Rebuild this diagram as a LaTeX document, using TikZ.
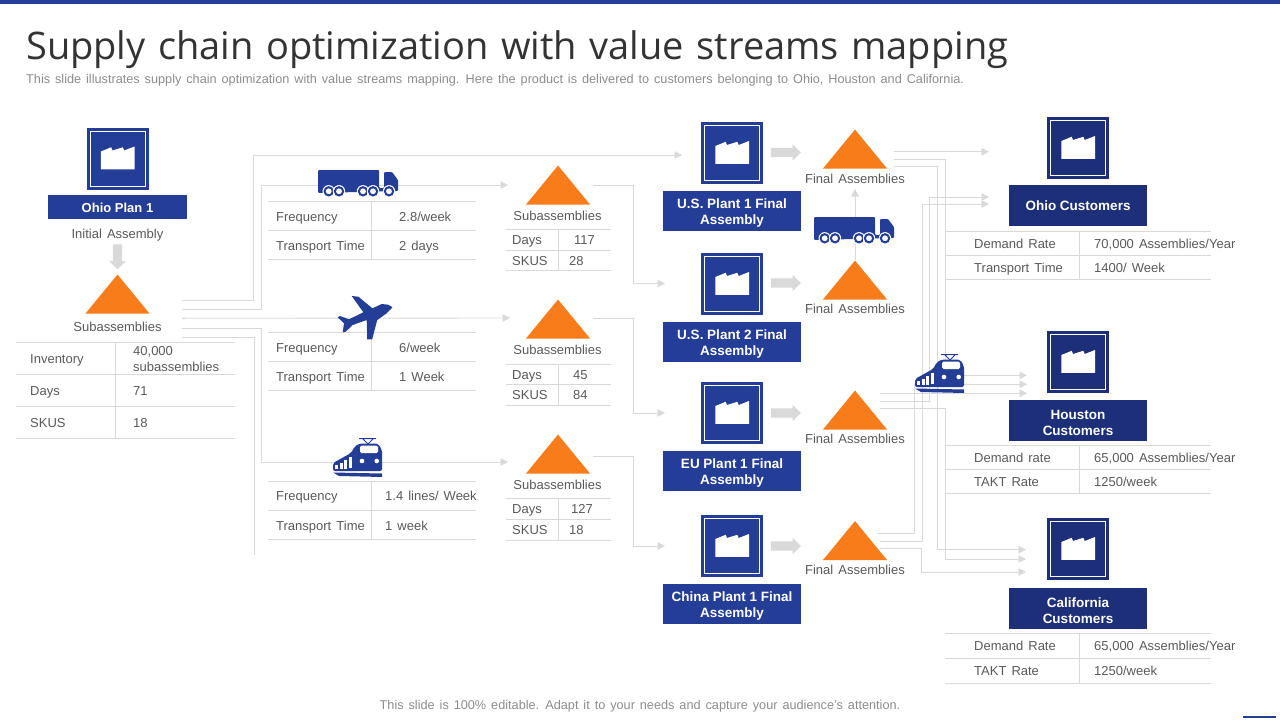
\documentclass[tikz,border=0pt]{standalone}
\usepackage{fontspec}
\setmainfont[WordSpace=1.4,BoldFeatures={WordSpace=1.0}]{Liberation Sans}
\newfontfamily\titlefont[WordSpace=1.27]{Open Sans}
\usetikzlibrary{positioning,arrows.meta,shapes.geometric,shapes.arrows}
\definecolor{plantblue}{RGB}{36,62,152}
\definecolor{custblue}{RGB}{28,47,120}
\definecolor{pileorange}{RGB}{249,124,26}
\definecolor{linkgray}{RGB}{217,217,217}
\definecolor{textgray}{RGB}{89,89,89}
\definecolor{notegray}{RGB}{140,140,140}
\newcommand{\lift}{\rule{0pt}{13pt}}
\tikzset{
  plantsq/.style  = {rectangle, minimum size=62pt, inner sep=0pt, fill=plantblue},
  namebox/.style  = {rectangle, minimum width=138pt, align=center, inner sep=0pt, text=white, font=\fontsize{13.5}{16}\bfseries, fill=plantblue},
  pile/.style     = {isosceles triangle, isosceles triangle stretches, shape border rotate=90, minimum width=64pt, minimum height=39pt, inner sep=0pt, fill=pileorange, anchor=apex},
  tag/.style      = {anchor=base, inner sep=0pt, text=textgray, font=\fontsize{13}{16}\selectfont},
  cell/.style     = {anchor=base west, inner sep=0pt, align=left, text=textgray, font=\fontsize{13}{16}\selectfont},
  note/.style     = {inner sep=0pt, text=notegray, font=\fontsize{12.7}{14}\selectfont},
  rule/.style     = {draw=linkgray, line width=0.9pt},
  link/.style     = {draw=linkgray, line width=0.9pt},
  flow/.style     = {link, -{Triangle[length=7.5pt,width=7.5pt]}},
  blockarrow/.style = {single arrow, single arrow head extend=3.5pt, minimum height=30pt, inner sep=4.5pt, fill=linkgray},
  factory/.pic = {
    \draw[white, line width=1pt] (-27.5,-27.5) rectangle (27.5,27.5);
    \fill[white] (-16.7,-7) -- (-6.3,-11.2) -- (-5,-8) -- (5.3,-11.2) -- (6.7,-8) -- (17,-12) -- (17,10.8) -- (-16.7,10.8) -- cycle;
  },
  truckicon/.pic = {
    \fill[plantblue, rounded corners=1pt] (0,0) -- (61,0) -- (61,18) -- (66,18) -- (66,2) -- (74,2) -- (80,10) -- (80,21) -- (0,23) -- cycle;
    \foreach \wx in {10.7,21,45,55,71} {
      \fill[white] (\wx,21.3) circle (6.2);
      \fill[plantblue] (\wx,21.3) circle (5.2);
      \fill[white] (\wx,21.3) circle (2.9);
    }
  },
  planeicon/.pic = {
    \fill[plantblue] (54.7,11.3) -- (50.7,8.7) -- (44,8) -- (34.7,12.3) -- (20.7,.7) -- (14,0) -- (25.7,16.3) -- (11.3,23.3) -- (2.3,20) -- (0,21.3) -- (6.3,27.3) -- (5,36.3) -- (8,35.7) -- (15,29) -- (29,24) -- (29.5,43.3) -- (34.5,43.3) -- (39.5,24) -- (49,17.3) -- cycle;
  },
  trainicon/.pic = {
    \draw[plantblue, line width=1pt] (26,.7) -- (43,.7) (30,1) -- (35,6) -- (40,1);
    \fill[plantblue, rounded corners=2pt] (0,33) -- (0,25) -- (18,15) -- (22,8) -- (27,5.5) -- (45,5.5) -- (49,12) -- (49,33) -- cycle;
    \fill[white, rounded corners=1.5pt] (27,7.7) rectangle (45,15);
    \foreach \sx/\sy/\sh in {2/26.5/4.5,6.5/24.5/6.5,11/22/8.5,15.5/19/11} \fill[white] (\sx,\sy) rectangle ++(3,\sh);
    \fill[white] (29,23) circle (2.3);
    \fill[white] (43.7,23) circle (2.3);
    \fill[plantblue] (0,34.5) -- (49,35.5) -- (49,39) -- (6,38) -- cycle;
  },
}
\begin{document}
\begin{tikzpicture}[x=1pt,y=-1pt]
  \useasboundingbox (0,0) rectangle (1280,720);
  % header and footer
  \fill[plantblue] (0,0) rectangle (1280,4);
  \fill[plantblue] (1243,716) rectangle (1276,718);
  \node[anchor=base west, inner sep=0pt, text=black!80, font=\titlefont\fontsize{38}{42}\selectfont] (title) at (26,59) {Supply chain optimization with value streams mapping};
  \node[note, anchor=base west] (subtitle) at (26,83.5) {This slide illustrates supply chain optimization with value streams mapping. Here the product is delivered to customers belonging to Ohio, Houston and California.};
  \node[note, anchor=base] (footer) at (640,709.5) {This slide is 100\% editable. Adapt it to your needs and capture your audience's attention.};

  % free ends of the connectors
  \foreach \name/\x/\y in {suba/182/300.7, subb/182/309.3, subc/182/318.3, subd/182/328.3, sube/182/337.3, stube/254.3/555,
      roadin/508/185, airin/510/318, railin/508/462, usonein/682/155,
      midaout/593/185, midbout/593/318, midcout/593/456, ustwoin/665/283.5, euin/665/413, chinain/665/546,
      finalaa/894/151.7, finalab/894/159, finalac/894/166, finalca/880/393.3, finalcb/880/401.3, finalcc/880/408.3,
      finalda/877/533.3, finaldb/880/541, finaldc/880/548.3, truckup/855/260, truckend/855/189,
      ohioa/989/151.7, ohiob/989/197, ohioc/989/204, housa/1027/375.3, housb/1027/384.3, housc/1027/393.3,
      cala/1026/549.7, calb/1026/559, calc/1026/572} {
    \coordinate (\name) at (\x,\y);
  }

  % connectors first, the icons lie on them
  \draw[flow] (suba) -- ++(71,0) |- (usonein);
  \draw[flow] (subb) -- ++(79.3,0) |- (roadin);
  \draw[flow] (subc) -- (airin);
  \draw[flow] (subd) -- ++(79.3,0) |- (railin);
  \draw[link] (sube) -| (stube);
  \draw[flow] (midaout) -- ++(40.5,0) |- (ustwoin);
  \draw[flow] (midbout) -- ++(40.5,0) |- (euin);
  \draw[flow] (midcout) -- ++(40.5,0) |- (chinain);
  \draw[flow] (truckup) -- (truckend);
  \draw[flow] (finalaa) -- (ohioa);
  \draw[flow] (finalab) -- ++(51.5,0) |- (housa);
  \draw[flow] (finalac) -- ++(43,0) |- (cala);
  \draw[flow] (finalca) -- (housc);
  \draw[flow] (finalcb) -- ++(49.5,0) |- (ohiob);
  \draw[flow] (finalcc) -- ++(65.3,0) |- (calb);
  \draw[flow] (finalda) -- ++(37.7,0) |- (housb);
  \draw[flow] (finaldb) -- ++(42.3,0) |- (ohioc);
  \draw[flow] (finaldc) -- ++(41.7,0) |- (calc);

  % plant at the left
  \node[plantsq] (ohioplant) at (117.5,158.5) {};
  \pic at (ohioplant) {factory};
  \node[namebox, minimum height=24pt, minimum width=139pt, font=\fontsize{13}{16}\bfseries, below=5.5pt of ohioplant] (ohioname) {Ohio Plan 1};
  \node[tag] (initial) at (117.5,238.5) {Initial Assembly};
  \node[blockarrow, shape border rotate=270, minimum height=25pt] (initialflow) at (117.5,254.5) {};
  \node[pile] (subpile) at (117.5,274) {};
  \node[tag] (sublabel) at (117.5,331.5) {Subassemblies};

  % the plants and final assemblies
  \foreach \key/\py/\arrowy/\aty/\laby/\txt in {usone/153/152.5/129/183/U.S. Plant 1 Final\\Assembly, ustwo/284/283/260/313/U.S. Plant 2 Final\\Assembly, eu/413/413/390/443/EU Plant 1 Final\\Assembly, china/546/546/520.5/574/China Plant 1 Final\\Assembly} {
    \node[plantsq] (\key) at (732,\py) {};
    \pic at (\key) {factory};
    \node[namebox, minimum height=40pt, below=7pt of \key] (\key name) {\lift\txt};
    \node[blockarrow] (\key flow) at (783.5,\arrowy) {};
    \node[pile] (\key pile) at (855,\aty) {};
    \node[tag] (\key final) at (855,\laby) {Final Assemblies};
  }

  % the customers
  \foreach \key/\py/\gap/\txt in {ohio/148/6/Ohio Customers, hous/362/7/\lift Houston\\Customers, cali/549/8/\lift California\\Customers} {
    \node[plantsq, fill=custblue] (\key) at (1078,\py) {};
    \pic at (\key) {factory};
    \node[namebox, minimum height=41pt, fill=custblue, below=\gap pt of \key] (\key name) {\txt};
  }

  % middle subassemblies
  \foreach \key/\aty/\laby in {road/165/220, air/299/354, rail/434/489} {
    \node[pile] (\key pile) at (558,\aty) {};
    \node[tag] (\key sub) at (557.5,\laby) {Subassemblies};
  }

  % left table
  \foreach \y in {342.5,374.5,406,438} \draw[rule] (16,\y) -- (235,\y);
  \draw[rule] (115,342.5) -- (115,438);
  \node[cell] (inventory) at (30,363) {Inventory};
  \node[cell, anchor=west] (inventoryval) at (133,359) {40,000\\subassemblies};
  \node[cell] (days) at (30,395) {Days};
  \node[cell] (daysval) at (133,395) {71};
  \node[cell] (skus) at (30,427) {SKUS};
  \node[cell] (skusval) at (133,427) {18};

  % transport tables
  \foreach \key/\ya/\yb/\yc/\vx/\freq/\ttime in {road/201.3/230.3/259.3/399/2.8\slash week/2 days, air/332.3/361.3/390.3/399/6\slash week/1 Week, rail/481/510/539.3/385/1.4 lines\slash{} Week/1 week} {
    \draw[rule] (268,\ya) -- (476,\ya) (268,\yb) -- (476,\yb) (268,\yc) -- (476,\yc) (371,\ya) -- (371,\yc);
    \node[cell] (\key freq) at (276,{\ya+19.7}) {Frequency};
    \node[cell] (\key time) at (276,{\yb+20.3}) {Transport Time};
    \node[cell] (\key freqval) at (\vx,{\ya+19.7}) {\freq};
    \node[cell] (\key timeval) at (\vx,{\yb+20.3}) {\ttime};
  }

  % subassembly tables
  \foreach \key/\ya/\yb/\yc/\dx/\dv/\sx/\sv in {road/229/250/270/574/117/569/28, air/364/384/405/573/45/573/84, rail/498/519/540/571/127/569/18} {
    \draw[rule] (506,\ya) -- (611,\ya) (506,\yb) -- (611,\yb) (506,\yc) -- (611,\yc) (558,\ya) -- (558,\yc);
    \node[cell] (\key days) at (512,{\ya+15}) {Days};
    \node[cell] (\key skus) at (512,{\yb+15}) {SKUS};
    \node[cell] (\key daysval) at (\dx,{\ya+15}) {\dv};
    \node[cell] (\key skusval) at (\sx,{\yb+15}) {\sv};
  }

  % customer tables
  \foreach \key/\ya/\yb/\yc/\la/\lb/\va/\vb in {ohio/231/255/279/Demand Rate/Transport Time/{70,000 Assemblies\slash Year}/1400\slash{} Week, hous/445.5/469.5/493.5/Demand rate/TAKT Rate/{65,000 Assemblies\slash Year}/1250\slash week, cali/633/658/683/Demand Rate/TAKT Rate/{65,000 Assemblies\slash Year}/1250\slash week} {
    \draw[rule] (945,\ya) -- (1211,\ya) (945,\yb) -- (1211,\yb) (945,\yc) -- (1211,\yc) (1079,\ya) -- (1079,\yc);
    \node[cell] (\key rowa) at (974,{\ya+17}) {\la};
    \node[cell] (\key rowb) at (974,{\yb+17}) {\lb};
    \node[cell] (\key vala) at (1094,{\ya+17}) {\va};
    \node[cell] (\key valb) at (1094,{\yb+17}) {\vb};
  }

  % icons
  \pic at (318,170) {truckicon};
  \pic at (814,217) {truckicon};
  \pic at (337.7,296) {planeicon};
  \pic at (333,438) {trainicon};
  \pic at (915,354) {trainicon};
\end{tikzpicture}
\end{document}
